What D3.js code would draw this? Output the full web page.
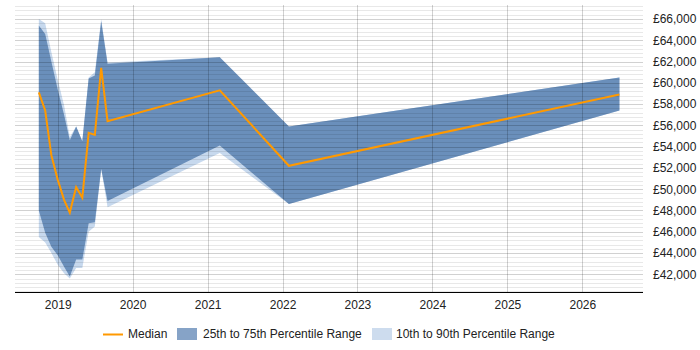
<!DOCTYPE html>
<html>
<head>
<meta charset="utf-8">
<script src="https://cdn.jsdelivr.net/npm/d3@7"></script>
<style>
  html, body { margin: 0; padding: 0; background: #fff; }
  svg { display: block; font-family: "Liberation Sans", Arial, sans-serif; }
</style>
</head>
<body>
<svg id="chart" width="700" height="350"></svg>
<script>
// ---- data ----
const dates = ["2018-10-01","2018-11-01","2018-12-01","2019-01-01","2019-02-01","2019-03-01",
               "2019-04-01","2019-05-01","2019-06-01","2019-07-01","2019-08-01","2019-09-01",
               "2021-03-01","2022-02-01","2026-07-01"];
const median = [59100, 57400, 53200, 50900, 49000, 47800, 50200, 49200, 55300, 55100, 61400, 56400, 59300, 52200, 58900];
const p25    = [48000, 45900, 44600, 43800, 42700, 41800, 43400, 43400, 46800, 46900, 51900, 48900, 54100, 48600, 57400];
const p75    = [65400, 64600, 62000, 59400, 57000, 54600, 55900, 54500, 60400, 60700, 65800, 61800, 62400, 55900, 60500];
const p10    = [45500, 45000, 44000, 42900, 42100, 41600, 42600, 42600, 46000, 46500, 51900, 48300, 53400, 48600, 57400];
const p90    = [66000, 65600, 62900, 60300, 57900, 54900, 55900, 54500, 60500, 61000, 66000, 61900, 62400, 55900, 60500];
const yTicks = [42000, 44000, 46000, 48000, 50000, 52000, 54000, 56000, 58000, 60000, 62000, 64000, 66000];
const xTickYears = [2019, 2020, 2021, 2022, 2023, 2024, 2025, 2026];
const legendLabels = ["Median", "25th to 75th Percentile Range", "10th to 90th Percentile Range"];

// ---- layout ----
const svg = d3.select("#chart");
const plotLeft = 15, plotRight = 643, plotTop = 5, plotBottom = 292;
const parse = d3.timeParse("%Y-%m-%d");
const rows = dates.map((d, i) => ({
  date: parse(d), median: median[i], p25: p25[i], p75: p75[i], p10: p10[i], p90: p90[i]
}));

const x = d3.scaleTime()
  .domain([new Date(2019, 0, 1), new Date(2026, 0, 1)])
  .range([57.7, 582.3]);
const y = d3.scaleLinear().domain([42000, 66000]).range([274.3, 19]);

svg.append("defs").append("clipPath").attr("id", "plotclip")
  .append("rect").attr("x", plotLeft).attr("y", plotTop)
  .attr("width", plotRight - plotLeft).attr("height", plotBottom - plotTop);

// bands
const area = (lo, hi) => d3.area().x(d => x(d.date)).y0(d => y(d[lo])).y1(d => y(d[hi]));
const g = svg.append("g").attr("clip-path", "url(#plotclip)");
g.append("path").datum(rows).attr("d", area("p10", "p90")(rows)).attr("fill", "#c7d9ee");
g.append("path").datum(rows).attr("d", area("p25", "p75")(rows)).attr("fill", "#6a8fbb");

// grid lines drawn over the bands (semi-transparent)
const grid = svg.append("g");
const minorVals = d3.range(40400, 67300, 400).filter(v => v % 2000 !== 0);
grid.selectAll("line.minor").data(minorVals).join("line")
  .attr("x1", plotLeft).attr("x2", plotRight)
  .attr("y1", d => Math.round(y(d)) + 0.5).attr("y2", d => Math.round(y(d)) + 0.5)
  .attr("stroke", "#000").attr("stroke-opacity", 0.09);
const majorVals = d3.range(40000, 67300, 2000).filter(v => y(v) >= plotTop && y(v) <= plotBottom);
grid.selectAll("line.major").data(majorVals).join("line")
  .attr("x1", plotLeft).attr("x2", plotRight)
  .attr("y1", d => Math.round(y(d)) + 0.5).attr("y2", d => Math.round(y(d)) + 0.5)
  .attr("stroke", "#000").attr("stroke-opacity", 0.18);
grid.selectAll("line.vert").data(xTickYears).join("line")
  .attr("x1", d => Math.round(x(new Date(d, 0, 1))) + 0.5)
  .attr("x2", d => Math.round(x(new Date(d, 0, 1))) + 0.5)
  .attr("y1", plotTop).attr("y2", plotBottom)
  .attr("stroke", "#000").attr("stroke-opacity", 0.18);

// median line
svg.append("path").datum(rows)
  .attr("clip-path", "url(#plotclip)")
  .attr("d", d3.line().x(d => x(d.date)).y(d => y(d.median)))
  .attr("fill", "none").attr("stroke", "#ff9900").attr("stroke-width", 2)
  .attr("stroke-linejoin", "miter");

// x axis
const xAxis = d3.axisBottom(x)
  .tickValues(xTickYears.map(yr => new Date(yr, 0, 1)))
  .tickFormat(d3.timeFormat("%Y"))
  .tickSize(0).tickPadding(8);
const xg = svg.append("g").attr("transform", `translate(0,${plotBottom})`).call(xAxis);
xg.select(".domain").remove();
xg.append("line").attr("x1", plotLeft).attr("x2", plotRight).attr("y1", 0.5).attr("y2", 0.5)
  .attr("stroke", "#000").attr("stroke-width", 1);
xg.selectAll("text").attr("font-size", 12).attr("fill", "#222")
  .attr("font-family", "Liberation Sans, Arial, sans-serif");

// y axis (right)
const yAxis = d3.axisRight(y).tickValues(yTicks)
  .tickFormat(v => "£" + d3.format(",")(v)).tickSize(0).tickPadding(10);
const yg = svg.append("g").attr("transform", `translate(${plotRight},0)`).call(yAxis);
yg.select(".domain").remove();
yg.selectAll("text").attr("font-size", 12).attr("fill", "#222")
  .attr("font-family", "Liberation Sans, Arial, sans-serif");

// legend
const leg = svg.append("g").attr("font-size", 12).attr("fill", "#222");
const ly = 334;
leg.append("line").attr("x1", 103).attr("x2", 123).attr("y1", ly + 0.5).attr("y2", ly + 0.5)
  .attr("stroke", "#ff9900").attr("stroke-width", 2);
leg.append("text").attr("x", 128).attr("y", ly + 4).text(legendLabels[0]);
leg.append("rect").attr("x", 177).attr("y", ly - 6).attr("width", 20).attr("height", 12)
  .attr("fill", "#86a3c7");
leg.append("text").attr("x", 203).attr("y", ly + 4).text(legendLabels[1]);
leg.append("rect").attr("x", 372).attr("y", ly - 6).attr("width", 20).attr("height", 12)
  .attr("fill", "#cddcee");
leg.append("text").attr("x", 396).attr("y", ly + 4).text(legendLabels[2]);
</script>
</body>
</html>
